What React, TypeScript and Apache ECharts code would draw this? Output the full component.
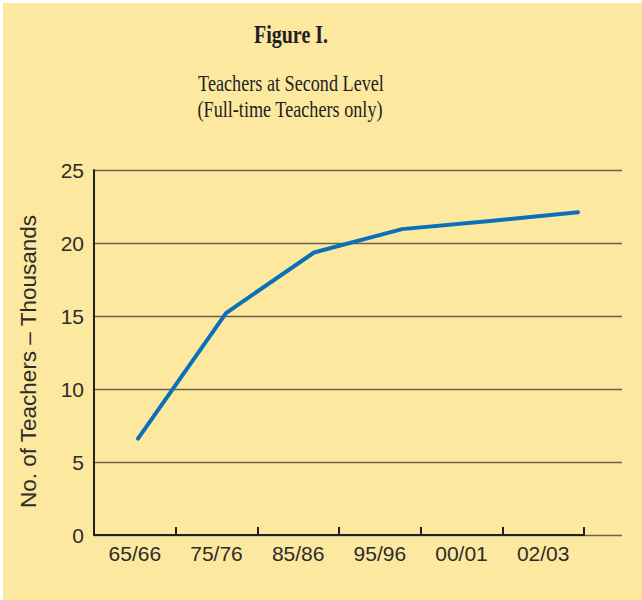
import React, { useEffect, useRef } from "react";
import * as echarts from "echarts";

const categories = ["65/66", "75/76", "85/86", "95/96", "00/01", "02/03"];
const teachersThousands = [6.6, 15.2, 19.35, 20.95, 21.5, 22.1];
const yTicks = { min: 0, max: 25, interval: 5 };

const titleText = "Figure I.";
const subtitleLines = ["Teachers at Second Level", "(Full-time Teachers only)"];
const yAxisName = "No. of Teachers \u2013 Thousands";

export default function App() {
  const ref = useRef<HTMLDivElement>(null);

  useEffect(() => {
    if (!ref.current) return;
    const chart = echarts.init(ref.current, null, { renderer: "svg" });
    const sans = "'Liberation Sans', Arial, Helvetica, sans-serif";
    const serif = "'Liberation Serif', 'Times New Roman', serif";
    const textColor = "#2e2c2a";

    chart.setOption({
      animation: false,
      backgroundColor: "#FDE8A0",
      grid: [
        { left: 94, right: 20, top: 170, bottom: 65, containLabel: false },
        { left: 94, right: 58, top: 170, bottom: 65, containLabel: false },
      ],
      xAxis: [
        {
          gridIndex: 0,
          type: "category",
          data: categories,
          boundaryGap: true,
          show: false,
        },
        {
          gridIndex: 1,
          type: "category",
          data: categories,
          boundaryGap: true,
          axisLine: { show: true, lineStyle: { color: "#231f20", width: 2 } },
          axisTick: {
            show: true,
            inside: true,
            length: 8,
            lineStyle: { color: "#231f20", width: 2 },
          },
          axisLabel: {
            margin: 8,
            fontSize: 21,
            fontFamily: sans,
            color: textColor,
          },
          splitLine: { show: false },
        },
      ],
      yAxis: [
        {
          gridIndex: 0,
          type: "value",
          min: yTicks.min,
          max: yTicks.max,
          interval: yTicks.interval,
          name: yAxisName,
          nameLocation: "middle",
          nameGap: 54,
          nameTextStyle: {
            fontSize: 22.5,
            fontFamily: sans,
            color: textColor,
            padding: [0, 18, 0, 0],
          },
          axisLine: { show: true, lineStyle: { color: "#231f20", width: 2 } },
          axisTick: { show: false },
          axisLabel: {
            margin: 10,
            fontSize: 21,
            fontFamily: sans,
            color: textColor,
          },
          splitLine: {
            show: true,
            lineStyle: { color: "#6e6049", width: 1.4 },
          },
        },
        {
          gridIndex: 1,
          type: "value",
          min: yTicks.min,
          max: yTicks.max,
          interval: yTicks.interval,
          show: false,
        },
      ],
      series: [
        {
          type: "line",
          xAxisIndex: 0,
          yAxisIndex: 0,
          data: teachersThousands,
          symbol: "none",
          lineStyle: { color: "#0a71b9", width: 4, cap: "round", join: "round" },
          z: 5,
        },
      ],
      graphic: [
        { type: "rect", shape: { x: 0, y: 0, width: 642, height: 3 }, style: { fill: "#ffffff" }, silent: true },
        { type: "rect", shape: { x: 0, y: 0, width: 3, height: 600 }, style: { fill: "#ffffff" }, silent: true },
        {
          type: "text",
          x: 291,
          y: 35,
          scaleX: 0.8,
          style: {
            text: titleText,
            fontSize: 25,
            fontWeight: "bold",
            fontFamily: serif,
            fill: "#231f20",
            align: "center",
            verticalAlign: "middle",
          },
        },
        {
          type: "text",
          x: 291,
          y: 83,
          scaleX: 0.79,
          style: {
            text: subtitleLines[0],
            fontSize: 23,
            fontFamily: serif,
            fill: "#231f20",
            align: "center",
            verticalAlign: "middle",
          },
        },
        {
          type: "text",
          x: 290,
          y: 109,
          scaleX: 0.79,
          style: {
            text: subtitleLines[1],
            fontSize: 23,
            fontFamily: serif,
            fill: "#231f20",
            align: "center",
            verticalAlign: "middle",
          },
        },
      ],
    });

    return () => chart.dispose();
  }, []);

  return (
    <div
      ref={ref}
      style={{ position: "absolute", left: 0, top: 0, width: 642, height: 600 }}
    />
  );
}
